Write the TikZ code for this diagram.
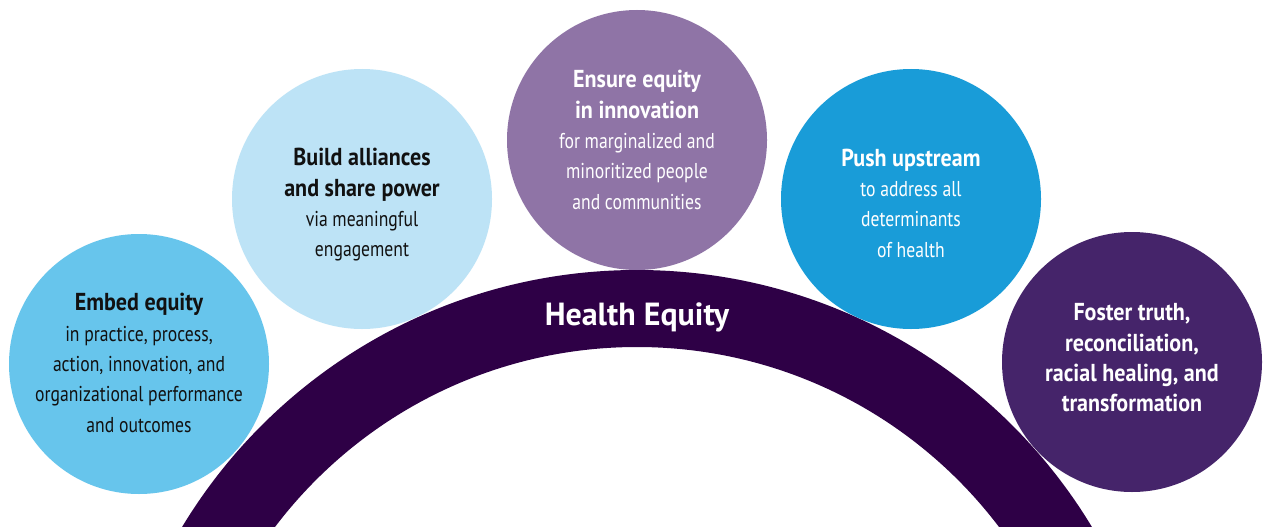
\documentclass[tikz,border=0pt]{standalone}
\usepackage{fontspec}
\setmainfont{PT Sans}
\newfontfamily\condfont[FakeStretch=0.82]{PT Sans}
\newfontfamily\condboldfont[FakeStretch=0.90]{PT Sans Bold}
\newfontfamily\headfont{PT Sans Bold}
\definecolor{arcpurple}{HTML}{2E0046}
\definecolor{cOne}{HTML}{67C5EC}
\definecolor{cTwo}{HTML}{BDE3F6}
\definecolor{cThree}{HTML}{8F74A6}
\definecolor{cFour}{HTML}{199CD8}
\definecolor{cFive}{HTML}{45246A}
\definecolor{darktext}{HTML}{111111}
\tikzset{
  bubble/.style={circle, minimum size=260pt, inner sep=0pt, draw=none},
  bubbletext/.style={align=center, font=\condfont\fontsize{21.5}{30.3}\selectfont},
}
\newcommand{\hd}[1]{{\condboldfont\fontsize{24.5}{30.3}\selectfont #1}}
\begin{document}
\begin{tikzpicture}[x=1pt,y=-1pt]
\useasboundingbox (0,0) rectangle (1263,527);
\fill[white] (0,0) rectangle (1263,527);
\begin{scope}
\clip (0,0) rectangle (1263,527);
\coordinate (ac) at (637,801);
\fill[arcpurple, even odd rule] (ac) circle[radius=531] (ac) circle[radius=454];
\end{scope}
\node[white, font=\headfont\fontsize{32}{36}\selectfont] (he) at (637,317) {Health Equity};
\node[bubble, fill=cOne, label={[bubbletext, text=darktext, yshift=1pt]center:{\hd{Embed equity}\\in practice, process,\\action, innovation, and\\organizational performance\\and outcomes}}] (c1) at (139,364) {};
\node[bubble, fill=cTwo, label={[bubbletext, text=darktext, yshift=-6pt]center:{\hd{Build alliances}\\\hd{and share power}\\via meaningful\\engagement}}] (c2) at (362,199) {};
\node[bubble, fill=cThree, label={[bubbletext, text=white]center:{\hd{Ensure equity}\\\hd{in innovation}\\for marginalized and\\minoritized people\\and communities}}] (c3) at (637,140) {};
\node[bubble, fill=cFour, label={[bubbletext, text=white, yshift=-4pt]center:{\hd{Push upstream}\\to address all\\determinants\\of health}}] (c4) at (911,199) {};
\node[bubble, fill=cFive, label={[bubbletext, text=white, yshift=4pt]center:{\hd{Foster truth,}\\\hd{reconciliation,}\\\hd{racial healing, and}\\\hd{transformation}}}] (c5) at (1132,362) {};
\end{tikzpicture}
\end{document}
